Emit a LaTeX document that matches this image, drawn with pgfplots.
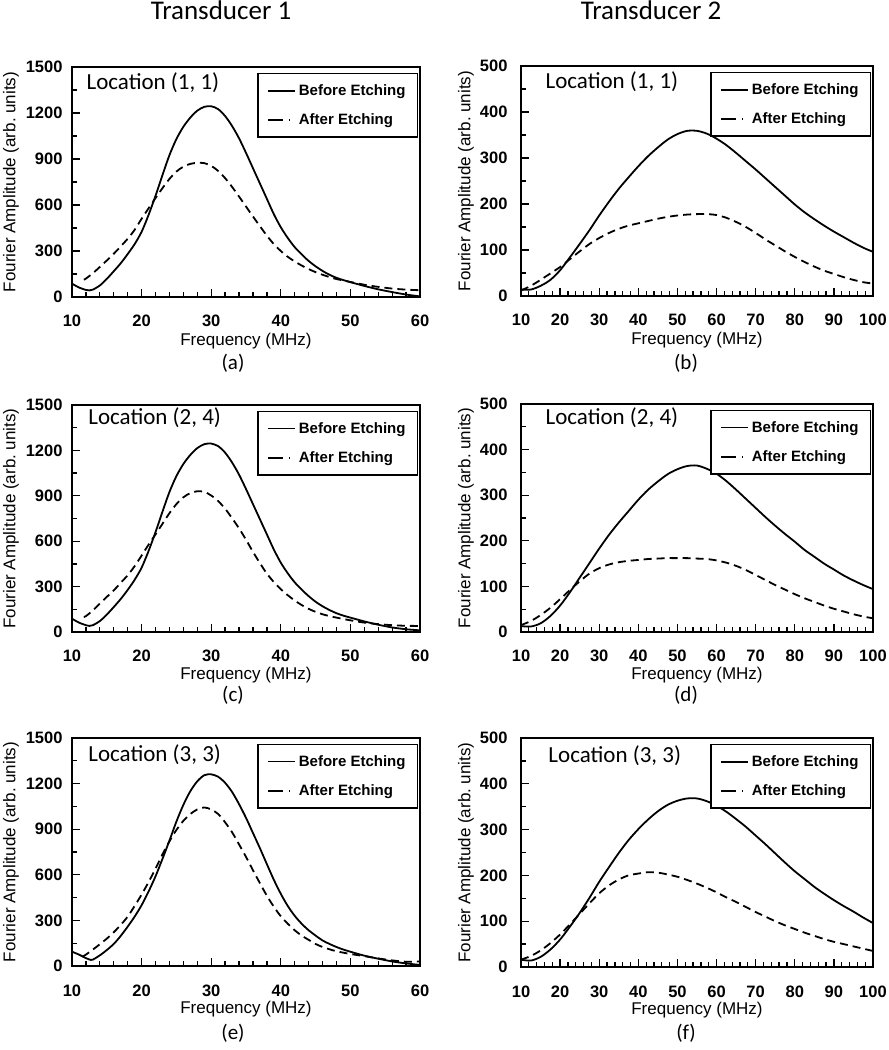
\documentclass[border=0pt]{standalone}
\usepackage{fontspec}
\setmainfont{Liberation Sans}
\newfontfamily\carl{Carlito}
\usepackage{pgfplots}
\pgfplotsset{compat=1.18}

\pgfplotsset{
  common/.style={
    scale only axis,
    axis line style={line width=1.6pt},
    tick align=inside, xtick pos=bottom, ytick pos=left,
    major tick length=8pt, minor tick length=5pt,
    every tick/.append style={line width=1.3pt, black},
    tick label style={font=\fontsize{16.5}{16.5}\selectfont\bfseries},
    /pgf/number format/assume math mode=true,
    /pgf/number format/1000 sep={},
    xticklabel style={anchor=base, yshift=-30pt},
    label style={font=\fontsize{17}{17}\selectfont},
    xlabel={Frequency (MHz)},
    ylabel={Fourier Amplitude (arb.\ units)},
    xlabel style={at={(axis description cs:0.5,-0.209)}, anchor=base},
    legend style={at={(0.995,0.975)}, anchor=north east, draw=black, line width=1.4pt,
      font=\fontsize{15}{15}\selectfont\bfseries, inner xsep=9pt, inner ysep=8pt, row sep=11pt,
      nodes={inner sep=3pt}, /tikz/every even column/.append style={column sep=2pt}},
    legend cell align=left,
    legend image code/.code={\draw[#1] (0pt,0pt) -- (27pt,0pt);},
  },
  tleft/.style={common, width=348pt, xmin=10, xmax=60, xtick={10,20,...,60}, minor x tick num=4,
    ymin=0, ymax=1500, ytick={0,300,...,1500}, minor y tick num=1,
    yticklabel style={xshift=-6pt},
    ylabel style={at={(axis description cs:-0.175,0.5)}, anchor=center}},
  tright/.style={common, width=352pt, xmin=10, xmax=100, xtick={10,20,...,100}, minor x tick num=4,
    ymin=0, ymax=500, ytick={0,100,...,500}, minor y tick num=1,
    yticklabel style={xshift=-10pt},
    ylabel style={at={(axis description cs:-0.156,0.5)}, anchor=center}},
  before/.style={black, line width=1.8pt, smooth, tension=0.5},
  after/.style={black, line width=1.8pt, smooth, tension=0.5, dash pattern=on 8pt off 5pt},
  afterleg/.style={black, line width=1.8pt, dash pattern=on 15pt off 6pt on 1.5pt off 10pt},
}
\newcommand{\loc}[3]{\node[anchor=base west, font=\carl\fontsize{23}{23}\selectfont] at (rel axis cs:#1,#2) {#3};}
\newcommand{\leg}{\addlegendimage{before}\addlegendentry{Before Etching}\addlegendimage{afterleg}\addlegendentry{After Etching}}

\begin{document}
\begin{tikzpicture}
\useasboundingbox (0,0) rectangle (889pt,1050pt);

\node[font=\carl\fontsize{27}{27}\selectfont, anchor=base] at (221pt,1030pt) {Transducer 1};
\node[font=\carl\fontsize{27}{27}\selectfont, anchor=base] at (651pt,1030pt) {Transducer 2};

\node[font=\carl\fontsize{21}{21}\selectfont, anchor=base] at (233pt,680pt) {(a)};
\node[font=\carl\fontsize{21}{21}\selectfont, anchor=base] at (686pt,680pt) {(b)};
\node[font=\carl\fontsize{21}{21}\selectfont, anchor=base] at (233pt,348pt) {(c)};
\node[font=\carl\fontsize{21}{21}\selectfont, anchor=base] at (686pt,348pt) {(d)};
\node[font=\carl\fontsize{21}{21}\selectfont, anchor=base] at (233pt,10pt) {(e)};
\node[font=\carl\fontsize{21}{21}\selectfont, anchor=base] at (686pt,10pt) {(f)};

% ---------- (a)
\begin{axis}[tleft, height=230pt, at={(72pt,753pt)}, anchor=south west]
\addplot[before, forget plot] coordinates {(10,87) (11,62) (12,46) (12.5,43) (13,48) (14,75) (15,118) (16,168) (17,220) (18,280) (19,345) (20,425) (21,535) (22,660) (23,795) (24,925) (25,1030) (26,1110) (27,1170) (28,1215) (29,1240) (30,1244) (31,1225) (32,1180) (33,1115) (34,1035) (35,940) (36,840) (37,740) (38,640) (39,540) (40,455) (41,385) (42,325) (43,278) (44,235) (45,200) (46,170) (47,145) (48,125) (49,110) (50,97) (52,72) (54,50) (56,32) (58,16) (60,4)};
\addplot[after, forget plot] coordinates {(11.7,113) (12,120) (13,155) (14,196) (15,238) (16,282) (17,330) (18,380) (19,438) (20,510) (21,578) (22,645) (23,710) (24,770) (25,818) (26,850) (27,868) (28,875) (29,873) (30,855) (31,822) (32,775) (33,718) (34,655) (35,590) (36,525) (37,462) (38,400) (39,345) (40,300) (41,262) (42,232) (43,205) (44,182) (45,162) (46,145) (47,130) (48,117) (50,98) (52,80) (54,66) (56,55) (58,48) (60,44)};
\leg
\loc{0.032}{0.9}{Location (1, 1)}
\end{axis}

% ---------- (b)
\begin{axis}[tright, height=230pt, at={(521pt,754pt)}, anchor=south west]
\addplot[before, forget plot] coordinates {(10,14) (12.5,14) (15,22) (17.5,35) (20,56) (22.5,84) (25,113) (27.5,143) (30,175) (32.5,205) (35,233) (37.5,258) (40,282) (42.5,304) (45,323) (47.5,340) (50,352) (52.5,359) (55,359) (57.5,353) (60,342) (62.5,328) (65,311) (67.5,293) (70,275) (72.5,256) (75,237) (77.5,218) (80,199) (82.5,182) (85,167) (87.5,153) (90,140) (92.5,128) (95,116) (97.5,105) (100,96)};
\addplot[after, forget plot] coordinates {(10,12) (12.5,22) (15,35) (17.5,49) (20,63) (22.5,80) (25,97) (27.5,113) (30,126) (32.5,137) (35,146) (37.5,153) (40,158) (42.5,163) (45,168) (47.5,172) (50,175) (52.5,177) (55,178) (57.5,178) (60,176) (62.5,170) (65,161) (67.5,150) (70,137) (72.5,123) (75,110) (77.5,97) (80,85) (82.5,74) (85,64) (87.5,55) (90,48) (92.5,41) (95,35) (97.5,30) (100,27)};
\leg
\loc{0.06}{0.9}{Location (1, 1)}
\end{axis}

% ---------- (c)
\begin{axis}[tleft, height=227pt, at={(72pt,418pt)}, anchor=south west]
\addplot[before, forget plot] coordinates {(10,88) (11,62) (12,45) (12.5,40) (13,45) (14,72) (15,115) (16,165) (17,218) (18,278) (19,345) (20,425) (21,535) (22,660) (23,795) (24,925) (25,1030) (26,1110) (27,1170) (28,1215) (29,1241) (30,1245) (31,1228) (32,1185) (33,1120) (34,1040) (35,945) (36,845) (37,745) (38,645) (39,545) (40,458) (41,388) (42,328) (43,280) (44,237) (45,200) (46,170) (47,145) (48,124) (49,108) (50,95) (52,70) (54,48) (56,30) (58,18) (60,11)};
\addplot[after, forget plot] coordinates {(11.7,99) (12,105) (13,142) (14,188) (15,232) (16,275) (17,325) (18,375) (19,435) (20,505) (21,577) (22,645) (23,715) (24,785) (25,845) (26,890) (27,918) (28,930) (29,926) (30,902) (31,865) (32,815) (33,752) (34,685) (35,610) (36,530) (37,455) (38,386) (39,330) (40,283) (41,243) (42,208) (43,178) (44,153) (45,133) (46,117) (47,105) (48,95) (50,77) (52,62) (54,52) (56,45) (58,41) (60,40)};
\leg
\loc{0.037}{0.912}{Location (2, 4)}
\end{axis}

% ---------- (d)
\begin{axis}[tright, height=228pt, at={(521pt,418pt)}, anchor=south west]
\addplot[before, forget plot] coordinates {(10,13) (12.5,12) (15,19) (17.5,35) (20,58) (22.5,87) (25,119) (27.5,151) (30,183) (32.5,213) (35,240) (37.5,265) (40,290) (42.5,312) (45,330) (47.5,346) (50,357) (52.5,364) (55,365) (57.5,358) (60,347) (62.5,331) (65,312) (67.5,292) (70,272) (72.5,252) (75,233) (77.5,215) (80,198) (82.5,180) (85,165) (87.5,150) (90,137) (92.5,124) (95,113) (97.5,103) (100,94)};
\addplot[after, forget plot] coordinates {(10,15) (12.5,24) (15,37) (17.5,53) (20,72) (22.5,92) (25,111) (27.5,128) (30,140) (32.5,148) (35,153) (37.5,156) (40,158) (42.5,160) (45,161) (47.5,162) (50,162) (52.5,162) (55,161) (57.5,160) (60,157) (62.5,152) (65,145) (67.5,136) (70,125) (72.5,114) (75,103) (77.5,93) (80,83) (82.5,74) (85,66) (87.5,58) (90,51) (92.5,45) (95,39) (97.5,34) (100,30)};
\leg
\loc{0.06}{0.912}{Location (2, 4)}
\end{axis}

% ---------- (e)
\begin{axis}[tleft, height=228pt, at={(72pt,84pt)}, anchor=south west]
\addplot[before, forget plot] coordinates {(10,94) (11,75) (12,52) (12.7,40) (13,42) (14,70) (15,105) (16,145) (17,198) (18,259) (19,325) (20,400) (21,490) (22,590) (23,705) (24,825) (25,950) (26,1060) (27,1150) (28,1215) (29,1255) (30,1261) (31,1245) (32,1205) (33,1145) (34,1065) (35,975) (36,875) (37,775) (38,670) (39,567) (40,475) (41,395) (42,330) (43,278) (44,235) (45,200) (46,168) (47,145) (48,125) (49,108) (50,94) (52,68) (54,48) (56,30) (58,17) (60,7)};
\addplot[after, forget plot] coordinates {(11.5,61) (12,75) (13,108) (14,143) (15,180) (16,222) (17,270) (18,325) (19,395) (20,470) (21,552) (22,640) (23,735) (24,820) (25,895) (26,955) (27,1000) (28,1030) (29,1043) (30,1030) (31,1000) (32,945) (33,880) (34,800) (35,718) (36,630) (37,545) (38,462) (39,390) (40,327) (41,278) (42,235) (43,200) (44,172) (45,145) (46,125) (47,110) (48,97) (50,79) (52,65) (54,50) (56,37) (58,28) (60,30)};
\leg
\loc{0.037}{0.895}{Location (3, 3)}
\end{axis}

% ---------- (f)
\begin{axis}[tright, height=229pt, at={(521pt,83pt)}, anchor=south west]
\addplot[before, forget plot] coordinates {(10,16) (12.5,14) (15,22) (17.5,38) (20,60) (22.5,88) (25,118) (27.5,151) (30,186) (32.5,218) (35,249) (37.5,277) (40,301) (42.5,322) (45,340) (47.5,354) (50,363) (52.5,368) (55,368) (57.5,362) (60,352) (62.5,339) (65,323) (67.5,306) (70,287) (72.5,268) (75,248) (77.5,228) (80,209) (82.5,192) (85,175) (87.5,160) (90,146) (92.5,133) (95,121) (97.5,108) (100,96)};
\addplot[after, forget plot] coordinates {(10,16) (12.5,24) (15,36) (17.5,52) (20,71) (22.5,93) (25,116) (27.5,139) (30,161) (32.5,178) (35,191) (37.5,200) (40,204) (42.5,207) (45,206) (47.5,202) (50,197) (52.5,190) (55,182) (57.5,173) (60,163) (62.5,152) (65,142) (67.5,131) (70,120) (72.5,110) (75,100) (77.5,91) (80,83) (82.5,75) (85,68) (87.5,61) (90,55) (92.5,50) (95,45) (97.5,40) (100,35)};
\leg
\loc{0.068}{0.895}{Location (3, 3)}
\end{axis}
\end{tikzpicture}
\end{document}
